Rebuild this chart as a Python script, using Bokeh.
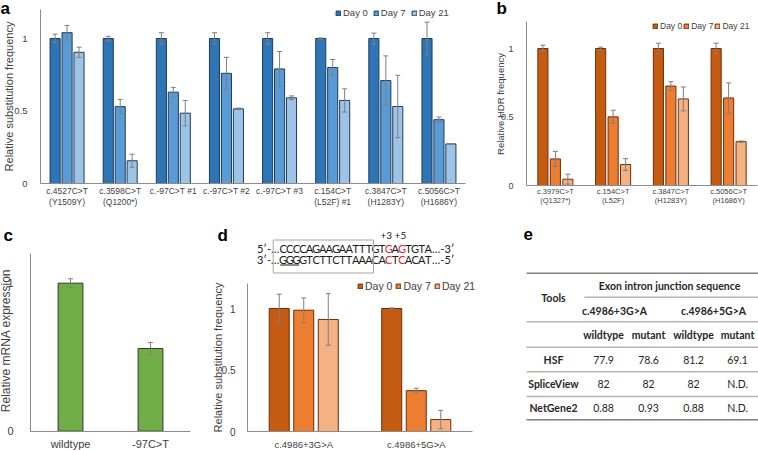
import math
from bokeh.plotting import figure
from bokeh.models import (Range1d, ColumnDataSource, Whisker, TeeHead, Legend, LegendItem,
                          LinearAxis, FixedTicker)
from bokeh.embed import file_html
from bokeh.resources import INLINE
from bokeh.core.properties import value

ARIAL = "Liberation Sans"
CAL = "Lato"
TXT = "#404040"
AXIS = "#8c8c8c"
ERR = "#7f7f7f"
W, H = 758, 450

# ---------------- data ----------------
days = ["Day 0", "Day 7", "Day 21"]

a_categories = ["c.4527C>T\n(Y1509Y)", "c.3598C>T\n(Q1200*)", "c.-97C>T #1", "c.-97C>T #2",
                "c.-97C>T #3", "c.154C>T\n(L52F) #1", "c.3847C>T\n(H1283Y)", "c.5056C>T\n(H1686Y)"]
a_day0 = [1, 1, 1, 1, 1, 1, 1, 1]
a_day0_err = [0.03, 0.015, 0.04, 0.04, 0.04, 0.004, 0.037, 0.113]
a_day7 = [1.04, 0.53, 0.63, 0.76, 0.79, 0.80, 0.71, 0.44]
a_day7_err = [0.05, 0.05, 0.033, 0.11, 0.12, 0.055, 0.17, 0.018]
a_day21 = [0.905, 0.157, 0.485, 0.515, 0.591, 0.573, 0.531, 0.273]
a_day21_err = [0.035, 0.045, 0.088, 0.005, 0.013, 0.08, 0.215, 0.002]

b_categories = ["c.3979C>T\n(Q1327*)", "c.154C>T\n(L52F)", "c.3847C>T\n(H1283Y)", "c.5056C>T\n(H1686Y)"]
b_day0 = [1, 1, 1, 1]
b_day0_err = [0.024, 0.01, 0.039, 0.039]
b_day7 = [0.194, 0.501, 0.726, 0.639]
b_day7_err = [0.055, 0.048, 0.032, 0.11]
b_day21 = [0.046, 0.153, 0.632, 0.32]
b_day21_err = [0.036, 0.043, 0.087, 0.005]

c_categories = ["wildtype", "-97C>T"]
c_values = [1.0, 0.559]
c_err = [0.03, 0.04]

d_categories = ["c.4986+3G>A", "c.4986+5G>A"]
d_day0 = [1, 1]
d_day0_err = [0.116, 0.005]
d_day7 = [0.986, 0.332]
d_day7_err = [0.10, 0.02]
d_day21 = [0.911, 0.097]
d_day21_err = [0.21, 0.075]

seq_top = "CCCCAGAAGAATTTGTGAGTGTA"
seq_bottom = "GGGGTCTTCTTAAACACTCACAT"
seq_red = [16, 18]
seq_positions = "+3 +5"

e_header = "Exon intron junction sequence"
e_variants = ["c.4986+3G>A", "c.4986+5G>A"]
e_alleles = ["wildtype", "mutant", "wildtype", "mutant"]
e_tools = ["HSF", "SpliceView", "NetGene2"]
e_scores = [["77.9", "78.6", "81.2", "69.1"],
            ["82", "82", "82", "N.D."],
            ["0.88", "0.93", "0.88", "N.D."]]

BLUES = ["#2E75B6", "#5B9BD5", "#9DC3E6"]
ORANGES = ["#C55A11", "#ED7D31", "#F4B183"]
GREEN = "#70AD47"

# ---------------- canvas ----------------
p = figure(width=W, height=H, x_range=Range1d(0, W), y_range=Range1d(0, H),
           x_axis_type=None, y_axis_type=None, min_border=0, output_backend="svg",
           toolbar_location=None, tools="")
p.outline_line_color = None
p.background_fill_color = "white"


def yy(v):
    """page pixel (from top) -> canvas y."""
    return H - v


def span_range(d0, d1, p0, p1, total, flip=False):
    """Range1d so that data d0..d1 lands on pixels p0..p1 of the canvas."""
    if flip:
        p0, p1 = total - p0, total - p1
    k = (d1 - d0) / (p1 - p0)
    return Range1d(d0 - p0 * k, d0 + (total - p0) * k)


def txt(xs, ys, texts, size, font=ARIAL, align="center", baseline="middle", color=TXT,
        bold=False, angle=0):
    p.text(x=xs, y=[yy(v) for v in ys], text=texts, text_align=align, text_baseline=baseline,
           text_font=value(font), text_font_size=size, text_color=color, angle=angle,
           text_font_style="bold" if bold else "normal")


def bar_panel(name, cats, series, names, colors, outline, *, xpix, ypix, bar_w, offsets,
              yticks, ytick_size, ytick_standoff, xtick_size, xtick_standoff, xtick_lh=1.0,
              legend_loc=None, legend_size="9px", legend_spacing=4):
    n = len(cats)
    xr, yr = "x" + name, "y" + name
    p.extra_x_ranges[xr] = span_range(0, n, xpix[0], xpix[1], W)
    p.extra_y_ranges[yr] = span_range(0, 1, ypix[0], ypix[1], H, flip=True)
    items = []
    for (vals, errs), label, col, off in zip(series, names, colors, offsets):
        xs = [i + 0.5 + off for i in range(n)]
        src = ColumnDataSource(dict(x=xs, top=vals,
                                    upper=[v + e for v, e in zip(vals, errs)],
                                    lower=[v - e for v, e in zip(vals, errs)]))
        r = p.vbar(x="x", top="top", bottom=0, width=bar_w, source=src, fill_color=col,
                   line_color=outline, line_width=1, x_range_name=xr, y_range_name=yr)
        p.add_layout(Whisker(source=src, base="x", upper="upper", lower="lower",
                             x_range_name=xr, y_range_name=yr,
                             line_color=ERR, line_width=1, level="overlay",
                             upper_head=TeeHead(size=5, line_color=ERR, line_width=1),
                             lower_head=TeeHead(size=5, line_color=ERR, line_width=1)))
        if label:
            items.append(LegendItem(label=label, renderers=[r]))
    yax = LinearAxis(x_range_name=xr, y_range_name=yr, fixed_location=0, bounds=(0, 1.2),
                     ticker=FixedTicker(ticks=yticks),
                     major_label_overrides={0: "0", 0.5: "0.5", 1: "1"})
    xax = LinearAxis(x_range_name=xr, y_range_name=yr, fixed_location=0, bounds=(0, n),
                     ticker=FixedTicker(ticks=[i + 0.5 for i in range(n)]),
                     major_label_overrides={i + 0.5: c for i, c in enumerate(cats)})
    for ax in (xax, yax):
        ax.axis_line_color = AXIS
        ax.axis_line_width = 1
        ax.major_tick_line_color = None
        ax.minor_tick_line_color = None
        ax.major_label_text_font = ARIAL
        ax.major_label_text_color = TXT
    yax.major_label_text_font_size = ytick_size
    yax.major_label_standoff = ytick_standoff
    xax.major_label_text_font_size = xtick_size
    xax.major_label_standoff = xtick_standoff
    xax.major_label_text_line_height = xtick_lh
    p.add_layout(yax, "left")
    p.add_layout(xax, "below")
    if items:
        p.add_layout(Legend(items=items, location=legend_loc, orientation="horizontal",
                            glyph_width=6, glyph_height=6, label_standoff=2,
                            spacing=legend_spacing, padding=0, margin=0,
                            border_line_color=None, background_fill_alpha=0,
                            label_text_font=ARIAL, label_text_font_size=legend_size,
                            label_height=10, label_text_color=TXT))


# panel a
bar_panel("a", a_categories, [(a_day0, a_day0_err), (a_day7, a_day7_err), (a_day21, a_day21_err)],
          days, BLUES, "#1F3B5C", xpix=(40, 465), ypix=(183, 38), bar_w=0.19,
          offsets=(-0.225, 0, 0.225), yticks=[0, 0.5, 1], ytick_size="9.5px", ytick_standoff=7,
          xtick_size="8.5px", xtick_standoff=-4, xtick_lh=1.1,
          legend_loc=(335, H - 18), legend_size="9.5px", legend_spacing=5)
# panel b
bar_panel("b", b_categories, [(b_day0, b_day0_err), (b_day7, b_day7_err), (b_day21, b_day21_err)],
          days, ORANGES, "#6B2F0B", xpix=(526, 757), ypix=(185, 48), bar_w=0.175,
          offsets=(-0.216, 0, 0.216), yticks=[0, 0.5, 1], ytick_size="9px", ytick_standoff=7,
          xtick_size="7.5px", xtick_standoff=-5, xtick_lh=1.05,
          legend_loc=(652, H - 31), legend_size="8.5px", legend_spacing=1)
# panel c
bar_panel("c", c_categories, [(c_values, c_err)], [None], [GREEN], "#2B3A22",
          xpix=(30, 190), ypix=(430.7, 282.7), bar_w=0.31, offsets=(0,), yticks=[0, 1],
          ytick_size="11px", ytick_standoff=11, xtick_size="11px", xtick_standoff=1)
# panel d
bar_panel("d", d_categories, [(d_day0, d_day0_err), (d_day7, d_day7_err), (d_day21, d_day21_err)],
          days, ORANGES, "#6B2F0B", xpix=(247, 472), ypix=(431, 308), bar_w=0.178,
          offsets=(-0.218, 0, 0.218), yticks=[0, 0.5, 1], ytick_size="10px", ytick_standoff=6,
          xtick_size="9.5px", xtick_standoff=1,
          legend_loc=(357, H - 292), legend_size="10.5px", legend_spacing=3)

# y-axis titles
txt([8], [96], ["Relative substitution frequency"], "11px", angle=math.pi / 2)
txt([500], [103.5], ["Relative HDR frequency"], "9.5px", angle=math.pi / 2)
txt([5.5], [340], ["Relative mRNA expression"], "12px", angle=math.pi / 2)
txt([217.5], [357], ["Relative substitution frequency"], "11px", angle=math.pi / 2)

# panel letters
txt([0, 496, 3, 217, 523], [8, 8, 235, 235, 233], ["a", "b", "c", "d", "e"], "17px",
    align="left", baseline="alphabetic", color="black", bold=True)

# ---------------- panel d sequence ----------------
seq_x0 = 279.3
adv = 6.6
line_y = [247.5, 259]
for seq, prefix, suffix, ly in ((seq_top, "5\u2032-\u2026", "\u2026-3\u2032", line_y[0]),
                                (seq_bottom, "3\u2032-\u2026", "\u2026-5\u2032", line_y[1])):
    n = len(seq)
    p.text(x=[seq_x0 + adv * (i + 0.5) for i in range(n)], y=[yy(ly)] * n, text=list(seq),
           text_color=["#E8262A" if i in seq_red else "#1a1a1a" for i in range(n)],
           text_align="center", text_baseline="middle", text_font=value(CAL),
           text_font_size="11px")
    txt([seq_x0 - 0.5], [ly], [prefix], "11px", font=CAL, align="right", color="#1a1a1a")
    txt([seq_x0 + adv * n + 0.5], [ly], [suffix], "11px", font=CAL, align="left", color="#1a1a1a")
p.quad(left=[seq_x0 - 6.6], right=[seq_x0 + adv * 14 + 1.3], top=[yy(239.5)], bottom=[yy(272.5)],
       fill_color=None, line_color="#a6a6a6", line_width=1)
p.segment(x0=[seq_x0 + 0.5], x1=[seq_x0 + adv * 3 - 0.5], y0=[yy(line_y[1] + 5.5)],
          y1=[yy(line_y[1] + 5.5)], line_color="#1a1a1a", line_width=1)
txt([seq_x0 + adv * 17.2], [234], [seq_positions], "10px", font=CAL, color="#1a1a1a")

# ---------------- panel e table ----------------
tx0, tx1 = 526, 758
rule_y = [272.7, 321.3, 346.7, 371.3, 396, 419.3]
rule_col = ["#7f7f7f", "#b5b5b5", "#b5b5b5", "#b5b5b5", "#b5b5b5", "#7f7f7f"]
p.segment(x0=[tx0] * len(rule_y), x1=[tx1] * len(rule_y), y0=[yy(v) for v in rule_y],
          y1=[yy(v) for v in rule_y], line_color=rule_col, line_width=1.6)
p.segment(x0=[584], x1=[tx1], y0=[yy(296.7)], y1=[yy(296.7)], line_color="#b5b5b5", line_width=1.6)

col_x = [603, 648, 693, 737]
label_x = 553
row_y = [359, 383.3, 407.3]
TB = "#262626"
txt([669], [285], [e_header], "10.5px", font=CAL, bold=True, color=TB)
txt([label_x], [297.7], ["Tools"], "10.5px", font=CAL, bold=True, color=TB)
txt([614, 713], [310.7, 310.7], e_variants, "10.5px", font=CAL, bold=True, color=TB)
txt(col_x, [334.7] * 4, e_alleles, "10.5px", font=CAL, bold=True, color=TB)
txt([label_x] * 3, row_y, e_tools, "10.5px", font=CAL, bold=True, color=TB)
for ry, scores in zip(row_y, e_scores):
    txt(col_x, [ry] * 4, scores, "10.5px", font=CAL, color=TB)

open("out.html", "w").write(file_html(p, INLINE))
